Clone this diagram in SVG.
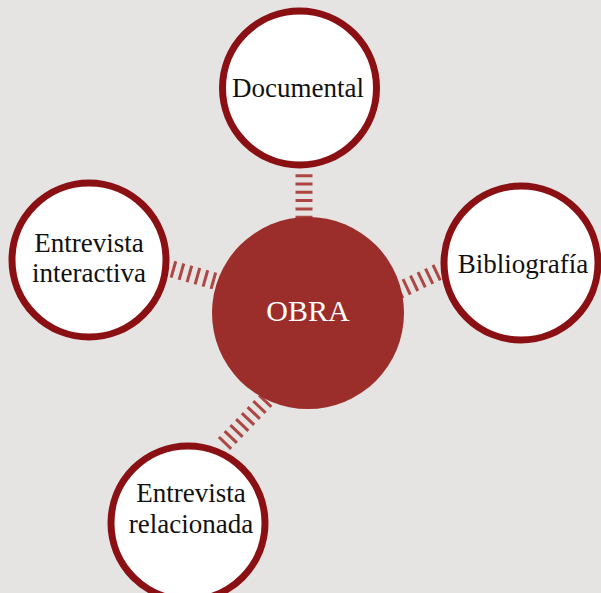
<svg xmlns="http://www.w3.org/2000/svg" width="601" height="593" viewBox="0 0 601 593">
<style>
.bg{fill:#e6e4e2}
.conn{stroke:#ad4744;stroke-width:17;fill:none;stroke-dasharray:3 5.3}
.ring{fill:#ffffff;stroke:#8a1014;stroke-width:7}
.hub{fill:#9b2d2a}
.lbl{font-family:"Liberation Serif","Times New Roman",serif;font-size:27px;fill:#111;text-anchor:middle}
.hubl{font-family:"Liberation Serif","Times New Roman",serif;font-size:30px;fill:#ffffff;text-anchor:middle}
</style>
<rect class="bg" x="0" y="0" width="601" height="593"/>
<g id="connectors">
<line class="conn" x1="304" y1="174.2" x2="304" y2="222"/>
<line class="conn" x1="172" y1="269" x2="218" y2="282"/>
<line class="conn" x1="438" y1="272" x2="398" y2="291"/>
<line class="conn" x1="224" y1="444" x2="268" y2="398"/>
</g>
<g id="obra">
<circle class="hub" cx="308" cy="313" r="96"/>
<text class="hubl" x="308" y="321">OBRA</text>
</g>
<g id="documental">
<circle class="ring" cx="299.5" cy="88" r="77"/>
<text class="lbl" x="298" y="97">Documental</text>
</g>
<g id="bibliografia">
<circle class="ring" cx="521" cy="263" r="77"/>
<text class="lbl" x="523" y="273">Bibliografía</text>
</g>
<g id="entrevista-interactiva">
<circle class="ring" cx="89" cy="260" r="77"/>
<text class="lbl" x="89" y="252">Entrevista</text>
<text class="lbl" x="89" y="282">interactiva</text>
</g>
<g id="entrevista-relacionada">
<circle class="ring" cx="188" cy="523" r="77"/>
<text class="lbl" x="191" y="502">Entrevista</text>
<text class="lbl" x="191" y="533">relacionada</text>
</g>
</svg>
